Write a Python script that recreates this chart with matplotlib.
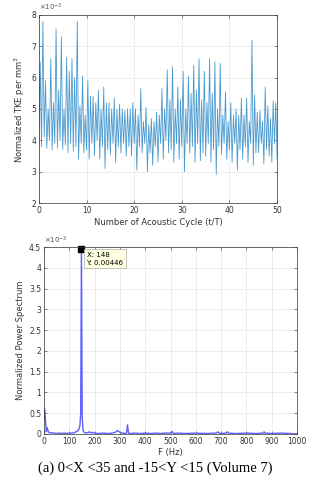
import numpy as np
import matplotlib
matplotlib.use('Agg')
import matplotlib.pyplot as plt

# TKE time series (x1e-3), troughs and peaks alternate
troughs = [3.9, 3.8, 4.1, 3.75, 4.0, 3.7, 3.9, 3.75, 4.0, 3.7, 3.85, 3.6, 3.9, 3.65, 3.8, 3.4, 3.9, 3.6, 3.7,
           3.4, 3.9, 3.5, 4.0, 3.4, 3.8, 3.1, 3.7, 3.55, 3.9, 3.3, 3.8, 3.6, 3.9, 3.5, 3.8, 3.5, 3.9,
           3.05, 3.8, 3.6, 3.9, 3.0, 3.6, 3.2, 3.8, 3.3, 3.9, 3.4, 4.0, 3.6, 3.7, 3.3, 3.9, 3.4, 3.8,
           3.0, 3.9, 3.6, 3.8, 3.3, 3.9, 3.35, 3.6, 3.5, 3.9, 3.3, 3.7, 2.9, 3.8, 3.55, 3.9, 3.4, 3.7,
           3.3, 3.9, 3.05, 3.7, 3.4, 3.8, 3.3, 3.9, 3.2, 3.6, 3.6, 3.9, 3.25, 3.7, 3.5, 3.3, 3.9, 3.4]
peaks = [6.5, 7.8, 5.9, 5.0, 6.6, 5.2, 7.55, 5.6, 7.3, 5.0,
         6.65, 6.2, 6.6, 6.0, 7.8, 5.1, 6.05, 4.8, 5.9, 5.4,
         5.4, 5.2, 5.6, 5.0, 5.7, 5.2, 5.2, 5.0, 5.35, 5.0,
         5.15, 5.0, 4.95, 5.0, 5.0, 5.2, 5.0, 4.8, 5.65, 4.6,
         5.05, 4.5, 4.7, 4.6, 4.9, 4.8, 5.65, 5.0, 6.25, 5.3,
         6.35, 5.0, 5.7, 5.3, 6.2, 5.0, 6.05, 5.5, 6.4, 5.6,
         6.6, 5.3, 6.2, 5.2, 6.6, 5.5, 6.5, 5.0, 6.45, 4.8,
         5.55, 4.6, 5.2, 4.8, 5.0, 4.8, 5.35, 4.8, 5.35, 4.6,
         7.2, 5.45, 4.9, 4.95, 4.6, 5.7, 5.1, 4.7, 5.25, 5.2]

tke = [troughs[0]]
for p, t in zip(peaks, troughs[1:]):
    tke += [p, t]
cycle = np.linspace(0, 50, len(tke))

# power spectrum (x1e-3)
freq = [0, 3, 6, 9, 12, 14, 17, 20, 25, 30, 40, 50, 60, 70, 80, 90, 100, 110, 120, 126, 130, 134, 138,
        142, 145, 148, 151, 154, 158, 165, 172, 180, 185, 190, 200, 215, 230, 250, 270, 282, 290, 296,
        302, 310, 320, 326, 330, 334, 340, 360, 380, 400, 420, 440, 460, 480, 500, 506, 510, 514, 530,
        560, 600, 640, 680, 688, 692, 700, 720, 725, 730, 760, 800, 840, 866, 870, 874, 900, 940, 970, 1000]
power = [0.35, 0.6, 0.3, 0.05, 0.15, 0.12, 0.06, 0.03, 0.02, 0.03, 0.02, 0.01, 0.02, 0.01, 0.02, 0.01,
         0.02, 0.02, 0.03, 0.05, 0.06, 0.08, 0.12, 0.2, 0.5, 4.46, 0.4, 0.1, 0.04, 0.02, 0.03, 0.05, 0.02,
         0.04, 0.02, 0.01, 0.02, 0.01, 0.02, 0.04, 0.08, 0.06, 0.03, 0.02, 0.01, 0.02, 0.22, 0.02, 0.01,
         0.02, 0.01, 0.02, 0.01, 0.02, 0.01, 0.02, 0.02, 0.06, 0.03, 0.01, 0.02, 0.01, 0.02, 0.01, 0.02,
         0.05, 0.02, 0.01, 0.02, 0.05, 0.02, 0.01, 0.02, 0.01, 0.02, 0.05, 0.02, 0.01, 0.02, 0.01, 0.0]

fig = plt.figure(figsize=(3.11, 4.80), dpi=100)
tick_fs = 5.5
grid_kw = dict(color='#e6e6e6', linewidth=0.5)

ax1 = fig.add_axes([0.125, 0.577, 0.766, 0.392])
ax1.plot(cycle, tke, color='#4a9ad0', linewidth=0.6)
ax1.set_xlim(0, 50)
ax1.set_ylim(2, 8)
ax1.set_xticks(range(0, 51, 10))
ax1.set_yticks(range(2, 9))
ax1.grid(True, **grid_kw)
ax1.set_xlabel('Number of Acoustic Cycle (t/T)', fontsize=6, color='#333333', labelpad=2)
ax1.set_ylabel('Normalized TKE per mm$^3$', fontsize=6, color='#333333', labelpad=3)
ax1.text(0.0, 1.01, r'$\times10^{-3}$', transform=ax1.transAxes, fontsize=5, color='#555555', va='bottom')

ax2 = fig.add_axes([0.1415, 0.096, 0.8135, 0.389])
ax2.plot(freq, power, color='#6060ff', linewidth=1.0)
ax2.set_xlim(0, 1000)
ax2.set_ylim(0, 4.5)
ax2.set_xticks(range(0, 1001, 100))
ax2.set_yticks(np.arange(0, 4.51, 0.5))
ax2.set_yticklabels(['0', '0.5', '1', '1.5', '2', '2.5', '3', '3.5', '4', '4.5'])
ax2.grid(True, **grid_kw)
ax2.set_xlabel('F (Hz)', fontsize=6, color='#333333', labelpad=2)
ax2.set_ylabel('Normalized Power Spectrum', fontsize=6, color='#333333', labelpad=3)
ax2.text(0.0, 1.005, r'$\times10^{-3}$', transform=ax2.transAxes, fontsize=5, color='#555555', va='bottom')
ax2.plot([148], [4.46], marker='s', color='black', markersize=4, clip_on=False)
ax2.text(168, 4.22, 'X: 148\nY: 0.00446', fontsize=5, va='center', ha='left', linespacing=1.5,
         bbox=dict(boxstyle='square,pad=0.35', facecolor='#ffffe1', edgecolor='#b0b0b0', linewidth=0.5))

for ax in (ax1, ax2):
    ax.tick_params(labelsize=tick_fs, colors='#333333', length=2, width=0.4, direction='in', pad=2,
                   top=True, right=True)
    for s in ax.spines.values():
        s.set_color('#333333')
        s.set_linewidth(0.5)

fig.text(0.5, 0.025, '(a) 0<X <35 and -15<Y <15 (Volume 7)', ha='center', va='center',
         fontsize=10.5, family='Liberation Serif')

fig.savefig('out.png', dpi=100)
